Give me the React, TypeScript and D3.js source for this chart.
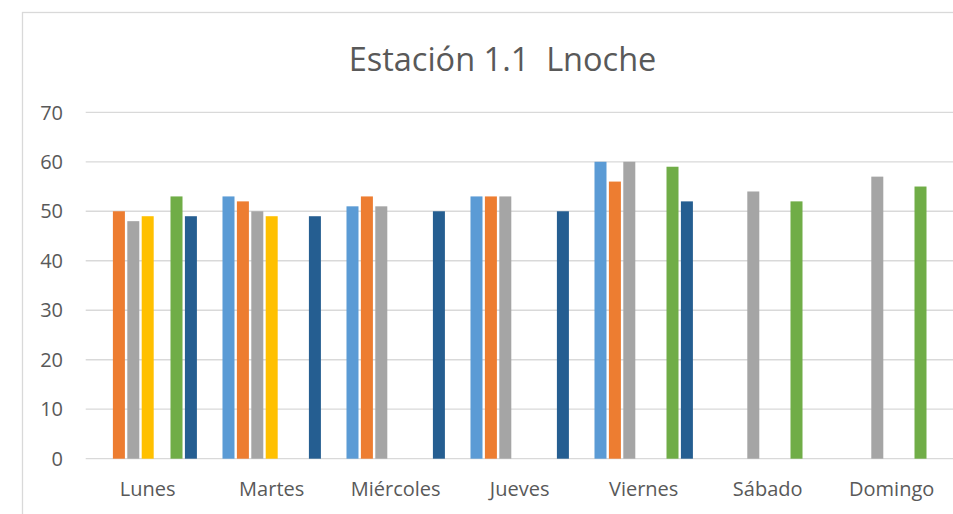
import React from "react";
import * as d3 from "d3";

const categories = ["Lunes", "Martes", "Miércoles", "Jueves", "Viernes", "Sábado", "Domingo"];
const seriesNames = ["S1", "S2", "S3", "S4", "S5", "S6", "S7"];
const seriesColors = ["#5B9BD5", "#ED7D31", "#A5A5A5", "#FFC000", "#4472C4", "#70AD47", "#255E91"];
const s1 = [null, 53, 51, 53, 60, null, null];
const s2 = [50, 52, 53, 53, 56, null, null];
const s3 = [48, 50, 51, 53, 60, 54, 57];
const s4 = [49, 49, null, null, null, null, null];
const s5 = [null, null, null, null, null, null, null];
const s6 = [53, null, null, null, 59, 52, 55];
const s7 = [49, 49, 50, 50, 52, null, null];
const seriesValues: (number | null)[][] = [s1, s2, s3, s4, s5, s6, s7];
const yTicks = [0, 10, 20, 30, 40, 50, 60, 70];
const title = "Estación 1.1  Lnoche";

const W = 953;
const H = 514;
const left = 85.7;
const right = 953.7;
const top = 112.3;
const bottom = 458.7;
const FONT = "'Open Sans', sans-serif";
const TXT = "#595959";
const GRID = "#D9D9D9";

export default function App() {
  const x0 = d3.scaleBand<string>().domain(categories).range([left, right]).paddingInner(0.187).paddingOuter(0.0935);
  const x1 = d3.scaleBand<string>().domain(seriesNames).range([0, x0.bandwidth()]).paddingInner(0.1667).paddingOuter(0.0833);
  const y = d3.scaleLinear().domain([0, 70]).range([bottom, top]);

  return (
    <div>
      <style>{`body{margin:0;}`}</style>
      <svg width={W} height={H} style={{ display: "block", background: "#fff" }}>
        <rect x={22.5} y={12.5} width={1000} height={600} fill="#fff" stroke={GRID} strokeWidth={1.3} />
        <text x={502.5} y={71} textAnchor="middle" fontFamily={FONT} fontSize={32.5} fill={TXT} style={{ whiteSpace: "pre" }}>
          {title}
        </text>
        {yTicks.map((t) => (
          <g key={t}>
            <line x1={left} x2={W} y1={y(t)} y2={y(t)} stroke={GRID} strokeWidth={1.3} />
            <text x={63} y={y(t)} dy="0.36em" textAnchor="end" fontFamily={FONT} fontSize={20} fill={TXT}>
              {t}
            </text>
          </g>
        ))}
        {categories.map((c, ci) => (
          <g key={c} transform={`translate(${x0(c)},0)`}>
            {seriesValues.map((vals, si) => {
              const v = vals[ci];
              if (v === null || v === undefined) return null;
              return (
                <rect
                  key={si}
                  x={x1(seriesNames[si])}
                  y={y(v)}
                  width={x1.bandwidth()}
                  height={y(0) - y(v)}
                  fill={seriesColors[si]}
                />
              );
            })}
            <text x={x0.bandwidth() / 2} y={496} textAnchor="middle" fontFamily={FONT} fontSize={20} fill={TXT}>
              {c}
            </text>
          </g>
        ))}
      </svg>
    </div>
  );
}
